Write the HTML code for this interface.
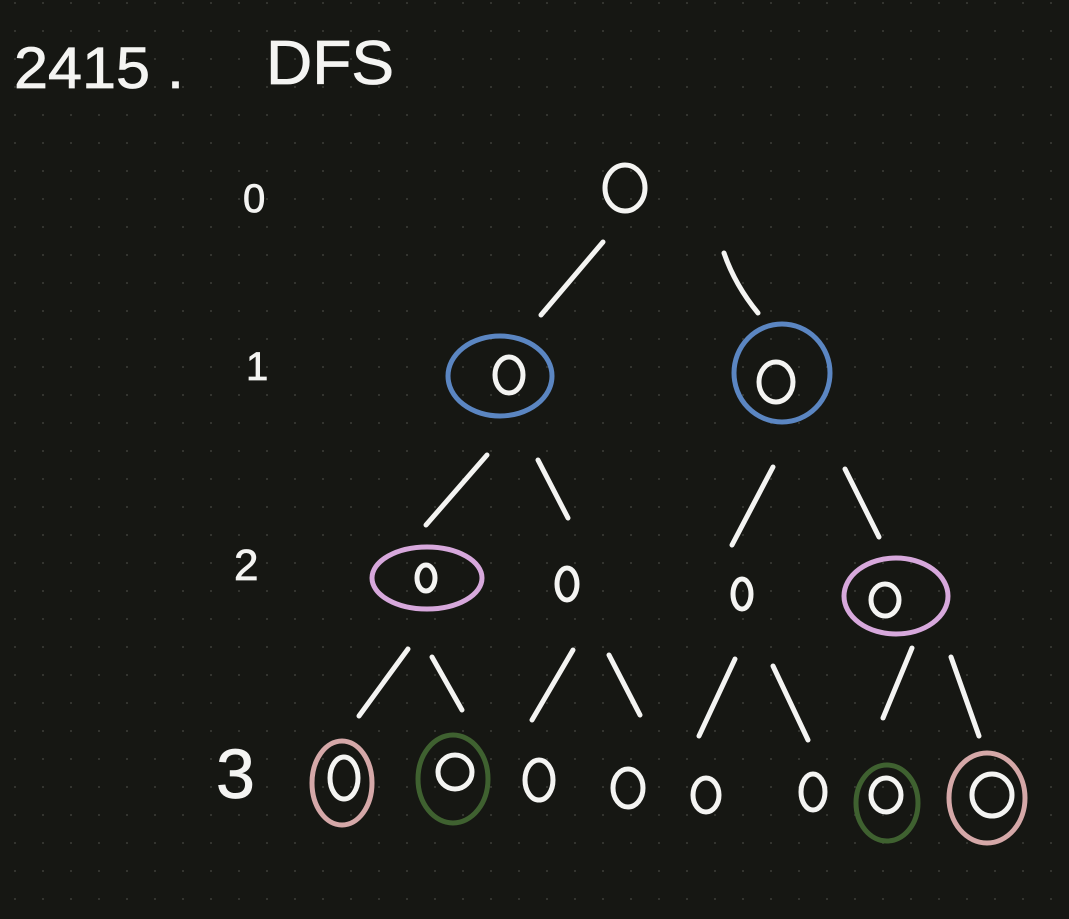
<!DOCTYPE html>
<html><head><style>
html,body{margin:0;padding:0;background:#161713;}
svg{display:block}
text{font-family:"Liberation Sans",sans-serif;fill:#f4f4f2;stroke:#f4f4f2;stroke-width:0.8}
</style></head><body>
<svg width="1069" height="919" xmlns="http://www.w3.org/2000/svg">
<defs><pattern id="d" x="14" y="114" width="28" height="28" patternUnits="userSpaceOnUse"><rect width="2" height="2" fill="#33342f"/></pattern></defs>
<rect width="1069" height="919" fill="#161713"/>
<rect width="1069" height="919" fill="url(#d)"/>
<text x="14" y="88" font-size="58" textLength="170" lengthAdjust="spacingAndGlyphs">2415 .</text>
<text x="266" y="84" font-size="62" textLength="128" lengthAdjust="spacingAndGlyphs">DFS</text>
<text x="243" y="212" font-size="40">0</text>
<text x="246" y="380" font-size="40">1</text>
<text x="234" y="580" font-size="44">2</text>
<text x="216" y="798" font-size="70">3</text>
<g fill="none" stroke="#f4f4f2" stroke-width="5" stroke-linecap="round">
<ellipse cx="625" cy="188" rx="20" ry="23"/>
<ellipse cx="509" cy="375" rx="14" ry="18"/>
<ellipse cx="776" cy="382" rx="17" ry="20"/>
<ellipse cx="426" cy="578" rx="9" ry="13"/>
<ellipse cx="567" cy="584" rx="10" ry="16"/>
<ellipse cx="742" cy="594" rx="9" ry="15"/>
<ellipse cx="885" cy="600" rx="14" ry="16"/>
<ellipse cx="344" cy="778" rx="14" ry="21"/>
<ellipse cx="455" cy="772" rx="17" ry="17"/>
<ellipse cx="539" cy="780" rx="14" ry="20"/>
<ellipse cx="628" cy="788" rx="15" ry="19"/>
<ellipse cx="706" cy="795" rx="13" ry="17"/>
<ellipse cx="813" cy="792" rx="12" ry="18"/>
<ellipse cx="886" cy="795" rx="15" ry="17"/>
<ellipse cx="992" cy="795" rx="20" ry="21"/>
<path d="M603 242 L541 315 M724 253 Q735 285 758 313"/>
<path d="M487 455 L426 525 M538 460 L568 518 M773 467 L732 545 M845 469 L879 537"/>
<path d="M408 649 L359 716 M432 657 L462 710 M573 650 L532 720 M609 655 L640 715 M735 659 L699 736 M773 666 L808 740 M912 648 L883 718 M951 657 L979 736"/>
</g>
<g fill="none" stroke-width="5">
<ellipse cx="500" cy="376" rx="52" ry="40" stroke="#5b86c2"/>
<ellipse cx="782" cy="373" rx="48" ry="49" stroke="#5b86c2"/>
<ellipse cx="427" cy="578" rx="55" ry="31" stroke="#d7a8dc"/>
<ellipse cx="896" cy="596" rx="52" ry="38" stroke="#d7a8dc"/>
<ellipse cx="342" cy="783" rx="30" ry="42" stroke="#d5a8a8"/>
<ellipse cx="453" cy="779" rx="35" ry="44" stroke="#3f6130"/>
<ellipse cx="887" cy="803" rx="31" ry="38" stroke="#3f6130"/>
<ellipse cx="987" cy="798" rx="38" ry="45" stroke="#d5a8a8"/>
</g>
</svg>
</body></html>
